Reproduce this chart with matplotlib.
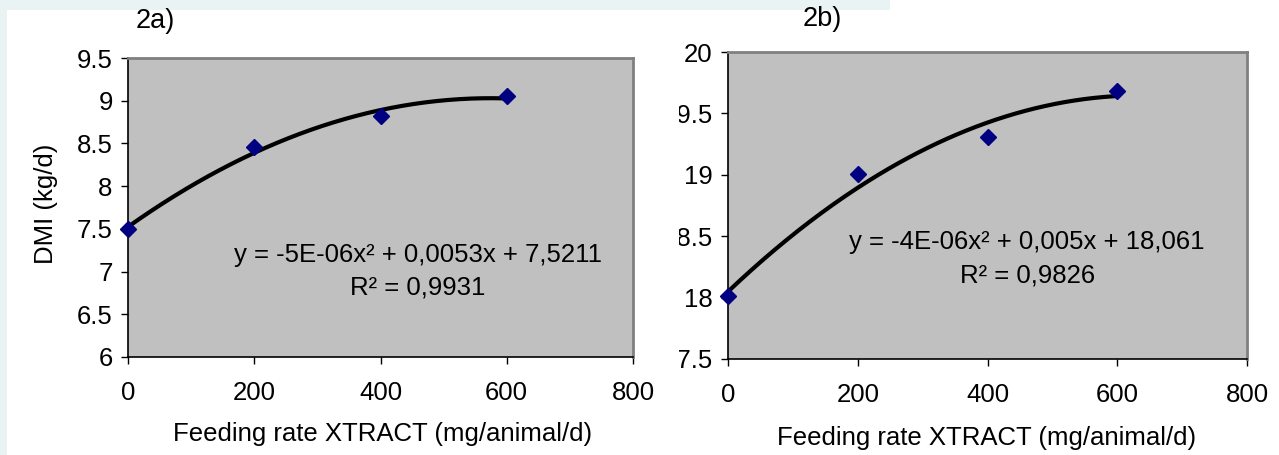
import matplotlib
matplotlib.use("Agg")
import matplotlib.pyplot as plt
import numpy as np
from matplotlib.patches import Rectangle
from matplotlib.transforms import Bbox, TransformedBbox

plt.rcParams['font.family'] = ['Liberation Sans', 'DejaVu Sans']

# data
feed = [0, 200, 400, 600]
dmi_a = [7.50, 8.46, 8.82, 9.05]
dmi_b = [18.01, 19.01, 19.31, 19.68]

eq_a = ["y = -5E-06x² + 0,0053x + 7,5211", "R² = 0,9931"]
eq_b = ["y = -4E-06x² + 0,005x + 18,061", "R² = 0,9826"]

yticks_a = [6, 6.5, 7, 7.5, 8, 8.5, 9, 9.5]
yticks_b = [17.5, 18, 18.5, 19, 19.5, 20]
xticks = [0, 200, 400, 600, 800]

FS = 18.5
W, H = 1279, 455
fig = plt.figure(figsize=(W / 100, H / 100), dpi=100)
fig.patch.set_facecolor('white')

# pale page background strips
bg = '#eaf3f3'
fig.add_artist(Rectangle((0, 1 - 10 / H), 890 / W, 10 / H, transform=fig.transFigure,
                         color=bg, lw=0, zorder=-5))
fig.add_artist(Rectangle((0, 0), 7 / W, 1, transform=fig.transFigure,
                         color=bg, lw=0, zorder=-5))


def px_axes(l, t, r, b):
    return fig.add_axes([l / W, 1 - b / H, (r - l) / W, (b - t) / H])


def ftext(x, y, s, **kw):
    fig.text(x / W, 1 - y / H, s, ha='center', va='center', **kw)


def panel(ax, y, yticks):
    ax.set_facecolor('#c0c0c0')
    xs = np.linspace(0, 600, 200)
    coef = np.polyfit(feed, y, 2)
    ax.plot(xs, np.polyval(coef, xs), color='black', lw=3.0, zorder=2, solid_capstyle='butt')
    ax.plot(feed, y, 'D', color='#000080', ms=8, zorder=3, clip_on=False)
    ax.set_xlim(0, 800)
    ax.set_ylim(yticks[0], yticks[-1])
    ax.set_xticks(xticks)
    ax.set_yticks(yticks)
    ax.set_yticklabels([f"{v:g}" for v in yticks])
    ax.tick_params(direction='out', length=5, width=1, labelsize=FS, colors='black', pad=6)
    ax.tick_params(axis='x', pad=12)
    for s in ['left', 'bottom']:
        ax.spines[s].set_color('black')
        ax.spines[s].set_linewidth(1.2)
    for s in ['top', 'right']:
        ax.spines[s].set_color('#808080')
        ax.spines[s].set_linewidth(2)


ax1 = px_axes(128, 58, 633, 357)
panel(ax1, dmi_a, yticks_a)
ftext(155, 21, "2a)", fontsize=FS + 1)
ftext(418, 255, eq_a[0], fontsize=FS)
ftext(418, 288, eq_a[1], fontsize=FS)
ftext(383, 434, "Feeding rate XTRACT (mg/animal/d)", fontsize=FS)
ftext(46, 204, "DMI (kg/d)", fontsize=FS, rotation=90)

ax2 = px_axes(728, 52, 1247, 359)
panel(ax2, dmi_b, yticks_b)
ftext(822, 19, "2b)", fontsize=FS + 1)
ftext(1027, 242, eq_b[0], fontsize=FS)
ftext(1028, 276, eq_b[1], fontsize=FS)
ftext(987, 438, "Feeding rate XTRACT (mg/animal/d)", fontsize=FS)

# the right panel's tick labels are cut off on the left in the original
fig.canvas.draw()
clip = TransformedBbox(Bbox([[679 / W, 0], [1, 1]]), fig.transFigure)
for lab in ax2.get_yticklabels():
    lab.set_clip_box(clip)
    lab.set_clip_on(True)

fig.savefig("out.png", dpi=100, facecolor=fig.get_facecolor())
